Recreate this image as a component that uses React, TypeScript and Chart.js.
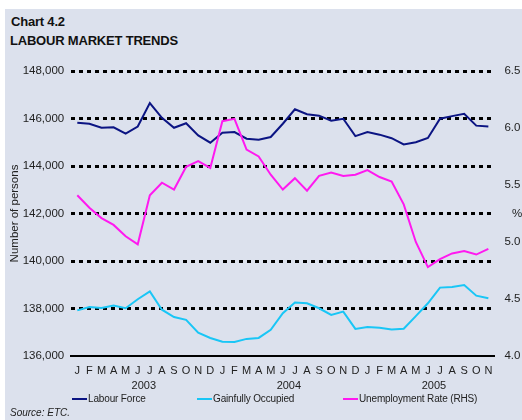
import React, { useEffect, useRef } from "react";
import { Chart, registerables } from "chart.js";

Chart.register(...registerables);

const MONTHS = [
  "J", "F", "M", "A", "M", "J", "J", "A", "S", "O", "N", "D",
  "J", "F", "M", "A", "M", "J", "J", "A", "S", "O", "N", "D",
  "J", "F", "M", "A", "M", "J", "J", "A", "S", "O", "N",
];
const YEARS = ["2003", "2004", "2005"];

const LABOUR_FORCE = [
  145820, 145780, 145610, 145630, 145360, 145660, 146650, 146030, 145610, 145800, 145290, 144980,
  145400, 145430, 145150, 145110, 145220, 145780, 146390, 146180, 146120, 145910, 145990, 145260,
  145430, 145320, 145170, 144910, 145000, 145180, 145990, 146100, 146200, 145700, 145660,
];
const GAINFULLY_OCCUPIED = [
  137920, 138060, 138020, 138130, 138010, 138390, 138720, 137950, 137640, 137520, 136980, 136760,
  136600, 136590, 136720, 136760, 137100, 137800, 138250, 138220, 138010, 137730, 137870, 137140,
  137220, 137190, 137120, 137150, 137680, 138220, 138880, 138910, 138990, 138540, 138430,
];
const UNEMPLOYMENT_RATE = [
  5.41, 5.30, 5.21, 5.15, 5.05, 4.98, 5.41, 5.52, 5.46, 5.66, 5.71, 5.65,
  6.06, 6.08, 5.81, 5.75, 5.59, 5.46, 5.56, 5.45, 5.58, 5.61, 5.58, 5.59,
  5.63, 5.57, 5.53, 5.33, 5.00, 4.78, 4.85, 4.90, 4.92, 4.89, 4.94,
];

const FONT = '"Liberation Sans", Arial, sans-serif';
const TEXT = "#222";
const NAVY = "#0b1483";
const CYAN = "#19c6f6";
const MAGENTA = "#ff19f0";

const yearPlugin = {
  id: "yearLabels",
  afterDraw(chart: any) {
    const { ctx, scales } = chart;
    const x = scales.x;
    const y1 = scales.y1;
    ctx.save();
    ctx.fillStyle = TEXT;
    ctx.font = `11px ${FONT}`;
    ctx.textAlign = "center";
    ctx.textBaseline = "middle";
    YEARS.forEach((yr, i) => {
      // year label centred between June and July of that year
      const a = x.getPixelForValue(i * 12 + 5);
      const b = x.getPixelForValue(i * 12 + 6);
      ctx.fillText(yr, (a + b) / 2, 386);
    });
    ctx.font = `11.5px ${FONT}`;
    ctx.textAlign = "left";
    ctx.fillText("%", y1.left + 17.5, (chart.chartArea.top + chart.chartArea.bottom) / 2);
    ctx.restore();
  },
};

export default function App() {
  const ref = useRef<HTMLCanvasElement>(null);

  useEffect(() => {
    if (!ref.current) return;
    const chart = new Chart(ref.current, {
      type: "line",
      data: {
        labels: MONTHS,
        datasets: [
          {
            label: "Labour Force",
            data: LABOUR_FORCE,
            borderColor: NAVY,
            borderWidth: 2,
            pointRadius: 0,
            tension: 0,
            yAxisID: "y",
            order: 1,
          },
          {
            label: "Gainfully Occupied",
            data: GAINFULLY_OCCUPIED,
            borderColor: CYAN,
            borderWidth: 2,
            pointRadius: 0,
            tension: 0,
            yAxisID: "y",
            order: 1,
          },
          {
            label: "Unemployment Rate (RHS)",
            data: UNEMPLOYMENT_RATE,
            borderColor: MAGENTA,
            borderWidth: 2,
            pointRadius: 0,
            tension: 0,
            yAxisID: "y1",
            order: 0,
          },
        ],
      },
      options: {
        responsive: false,
        animation: false,
        devicePixelRatio: 1,
        layout: { padding: { top: 71, bottom: 0, left: 0, right: 0 } },
        plugins: {
          legend: { display: false },
          tooltip: { enabled: false },
          title: { display: false },
        },
        scales: {
          x: {
            type: "category",
            offset: true,
            grid: { display: false, drawTicks: false },
            border: { display: true, color: "#000", width: 2 },
            ticks: {
              color: TEXT,
              font: { family: FONT, size: 11 },
              padding: 8,
              maxRotation: 0,
              autoSkip: false,
            },
            afterFit: (s: any) => {
              s.height = 64;
            },
          },
          y: {
            position: "left",
            min: 136000,
            max: 148000,
            ticks: {
              stepSize: 2000,
              color: TEXT,
              font: { family: FONT, size: 11.5 },
              padding: 7,
              callback: (v: any) => Number(v).toLocaleString("en-US"),
            },
            grid: {
              drawTicks: false,
              lineWidth: 3,
              color: (c: any) => (c.tick && c.tick.value === 136000 ? "rgba(0,0,0,0)" : "#000"),
            },
            border: { display: false, dash: [4, 4] },
            title: {
              display: true,
              text: "Number of persons",
              color: TEXT,
              font: { family: FONT, size: 11.5 },
              padding: { top: 8, bottom: 0 },
            },
            afterFit: (s: any) => {
              s.width = 71.25;
            },
          },
          y1: {
            position: "right",
            min: 4.0,
            max: 6.5,
            ticks: {
              stepSize: 0.5,
              color: TEXT,
              font: { family: FONT, size: 11.5 },
              padding: 10,
              callback: (v: any) => Number(v).toFixed(1),
            },
            grid: { display: false, drawTicks: false },
            border: { display: false },
            afterFit: (s: any) => {
              s.width = 27.6;
            },
          },
        },
      },
      plugins: [yearPlugin],
    });
    return () => chart.destroy();
  }, []);

  const legend = [
    { label: "Labour Force", color: NAVY, x: 72 },
    { label: "Gainfully Occupied", color: CYAN, x: 197 },
    { label: "Unemployment Rate (RHS)", color: MAGENTA, x: 343 },
  ];

  return (
    <div
      style={{
        position: "absolute",
        left: 0,
        top: 0,
        width: 522,
        height: 420,
        background: "#ffffff",
        fontFamily: FONT,
        overflow: "hidden",
      }}
    >
      <div
        style={{
          position: "absolute",
          left: 5,
          top: 9,
          right: 0,
          bottom: 0,
          background: "#dce1ed",
        }}
      />
      <div
        style={{
          position: "absolute",
          left: 11,
          top: 14,
          fontSize: 13,
          fontWeight: "bold",
          lineHeight: "16px",
          color: "#111",
          letterSpacing: "-0.2px",
        }}
      >
        Chart 4.2
      </div>
      <div
        style={{
          position: "absolute",
          left: 10,
          top: 33,
          fontSize: 13,
          fontWeight: "bold",
          lineHeight: "16px",
          color: "#111",
          letterSpacing: "-0.2px",
        }}
      >
        LABOUR MARKET TRENDS
      </div>
      <canvas
        ref={ref}
        width={522}
        height={420}
        style={{ position: "absolute", left: 0, top: 0, width: 522, height: 420 }}
      />
      {legend.map((l) => (
        <div
          key={l.label}
          style={{
            position: "absolute",
            left: l.x,
            top: 393,
            height: 12,
            display: "flex",
            alignItems: "center",
            fontSize: 10,
            lineHeight: "12px",
            color: TEXT,
            whiteSpace: "nowrap",
            letterSpacing: "-0.15px",
          }}
        >
          <span
            style={{
              display: "inline-block",
              width: 15,
              height: 2,
              background: l.color,
              marginRight: 1,
            }}
          />
          {l.label}
        </div>
      ))}
      <div
        style={{
          position: "absolute",
          left: 10,
          top: 407,
          fontSize: 10,
          lineHeight: "12px",
          fontStyle: "italic",
          color: TEXT,
          whiteSpace: "nowrap",
        }}
      >
        Source: ETC.
      </div>
    </div>
  );
}
